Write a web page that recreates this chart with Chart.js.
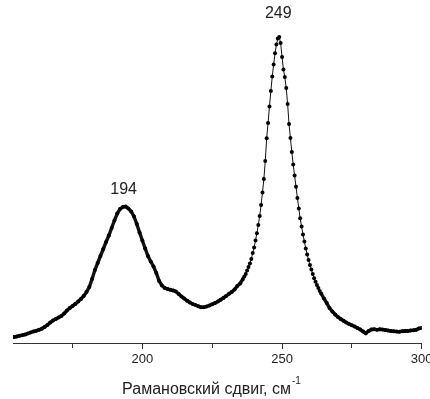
<!DOCTYPE html>
<html>
<head>
<meta charset="utf-8">
<script src="https://cdn.jsdelivr.net/npm/chart.js@4"></script>
<style>
  html, body { margin: 0; padding: 0; background: #fff; }
  #clip { position: absolute; left: 13px; top: 0; width: 417px; height: 399px; overflow: hidden; }
  #chart { position: absolute; left: -33px; top: 0; }
</style>
</head>
<body>
<div id="clip"><canvas id="chart" width="460" height="399"></canvas></div>
<script>
// raman shift, cm-1 (finer step around the 249 peak)
const ramanShift = [
  150,151,152,153,154,155,156,157,158,159,160,161,162,163,164,165,166,167,168,169,
  170,171,172,173,174,175,176,177,178,179,180,181,182,183,184,185,186,187,188,189,
  190,191,192,193,194,195,196,197,198,199,200,201,202,203,204,205,206,207,208,209,
  210,211,212,213,214,215,216,217,218,219,220,221,222,223,224,225,226,227,228,229,
  230,231,232,233,234,235,236,
  236.5,237,237.5,238,238.5,239,239.5,240,240.5,241,241.5,242,242.5,243,243.5,244,
  244.5,245,245.5,246,246.5,247,247.5,248,248.5,249,249.5,250,250.5,251,251.5,252,
  252.5,253,253.5,254,254.5,255,255.5,256,256.5,257,257.5,258,258.5,259,259.5,260,
  260.5,261,261.5,262,262.5,263,263.5,264,
  265,266,267,268,269,270,271,272,273,274,275,276,277,278,279,280,281,282,283,284,
  285,286,287,288,289,290,291,292,293,294,295,296,297,298,299,300
];

// intensity, arb. units
const intensity = [
  4.5,5,5.2,5.5,6,6.5,7.2,7.8,8.5,9.5,10.5,11.5,12.2,13.2,14.2,16,18,20.5,22.5,24,
  25.5,27,29.5,32.5,35,37,39,41.5,44,47,51,56,64,73,80,87,94,101,107.5,115,
  122.5,129.5,134,136,136.5,134.5,131.5,126.5,119,110.5,102.5,94.5,87,81.5,76.5,70,62,57.5,55,54,
  53.2,52.5,51.5,49,46.5,44.5,42.2,40.5,39,38,36.8,35.8,35.7,36.5,37.5,38.8,40,41.5,43.2,45,
  47,49.2,51,53.5,57,59.5,64,
  66.5,69,72.5,76,79.5,84,90,95.5,102.5,109.7,118,127,138,150.5,164,182,
  204.7,220,236.5,252,266.5,278.5,289.7,298.5,304.5,306,300,286,273.5,266,255,239,
  219,205,191,178.5,167.5,156.3,145,134.5,124.7,116.5,108.5,101.5,94.5,88.5,83,78,
  73.5,69,64.7,61.2,58,55,52,49.5,
  44.5,40,35,31.5,28.5,26,24,22.2,20.5,19,17.7,16.5,15,13.5,11.5,9.7,12,13.5,13.8,13.2,
  13.7,13.4,13,12.5,12,11.7,11.4,11.3,11.8,12,12,12.5,12.8,13.2,14.5,15
];

// peak annotations
const peakShift = [194, 249];
const peakIntensity = [136.5, 306];
const peakText = ['194', '249'];

const xTitle = 'Рамановский сдвиг, см';
const xTitleSup = '-1';

const font = '"Liberation Sans", Arial, sans-serif';

const points = ramanShift.map((x, i) => ({ x: x, y: intensity[i] }));

// peak numbers above the maxima
const peakLabels = {
    id: 'peakLabels',
    afterDatasetsDraw(chart) {
        const ctx = chart.ctx;
        const lift = [17, 23];
        const dx = [-2, -1];
        ctx.save();
        ctx.fillStyle = '#222';
        ctx.font = '16px ' + font;
        ctx.textAlign = 'center';
        ctx.textBaseline = 'middle';
        peakShift.forEach((p, i) => {
            const x = chart.scales.x.getPixelForValue(p) + dx[i];
            const y = chart.scales.y.getPixelForValue(peakIntensity[i]) - lift[i];
            ctx.fillText(peakText[i], x, y);
        });
        ctx.restore();
    }
};

// axis title with superscript
const axisTitle = {
    id: 'axisTitle',
    afterDraw(chart) {
        const ctx = chart.ctx;
        const area = chart.chartArea;
        ctx.save();
        ctx.fillStyle = '#222';
        ctx.textBaseline = 'alphabetic';
        ctx.textAlign = 'left';
        ctx.font = '16px ' + font;
        const w1 = ctx.measureText(xTitle).width;
        ctx.font = '10px ' + font;
        const w2 = ctx.measureText(xTitleSup).width;
        const cx = (area.left + area.right) / 2 - 0.7;
        const x0 = cx - (w1 + w2 + 1) / 2;
        ctx.font = '16px ' + font;
        ctx.fillText(xTitle, x0, 394);
        ctx.font = '10px ' + font;
        ctx.fillText(xTitleSup, x0 + w1 + 1, 384);
        ctx.restore();
    }
};

new Chart(document.getElementById('chart'), {
    type: 'line',
    data: {
        datasets: [{
            data: points,
            borderColor: '#111',
            borderWidth: 1,
            // coarse (1 cm-1) stretches look like a solid heavy trace in the original
            segment: {
                borderWidth: (s) => (s.p1.parsed.x - s.p0.parsed.x) >= 1 ? 3.4 : 1
            },
            tension: 0,
            pointStyle: 'circle',
            pointRadius: 2,
            pointBorderWidth: 0,
            pointBackgroundColor: '#000',
            fill: false
        }]
    },
    options: {
        responsive: false,
        devicePixelRatio: 1,
        animation: false,
        layout: { padding: { left: 22.7, right: 18.3, top: 23, bottom: 28.4 } },
        plugins: {
            legend: { display: false },
            tooltip: { enabled: false }
        },
        scales: {
            x: {
                type: 'linear',
                min: 150,
                max: 300,
                grid: {
                    drawOnChartArea: false,
                    drawTicks: true,
                    tickLength: 6,
                    tickColor: '#333',
                    tickWidth: 1,
                    tickBorderDash: (c) => (c.tick && c.tick.value % 50 !== 0) ? [4, 10] : []
                },
                border: { display: true, color: '#333', width: 1 },
                ticks: {
                    stepSize: 25,
                    autoSkip: false,
                    maxRotation: 0,
                    padding: 3,
                    color: '#222',
                    font: { family: font, size: 13 },
                    callback: (v) => v % 50 === 0 ? v : ''
                }
            },
            y: { display: false, min: 0, max: 320 }
        }
    },
    plugins: [peakLabels, axisTitle]
});
</script>
</body>
</html>
